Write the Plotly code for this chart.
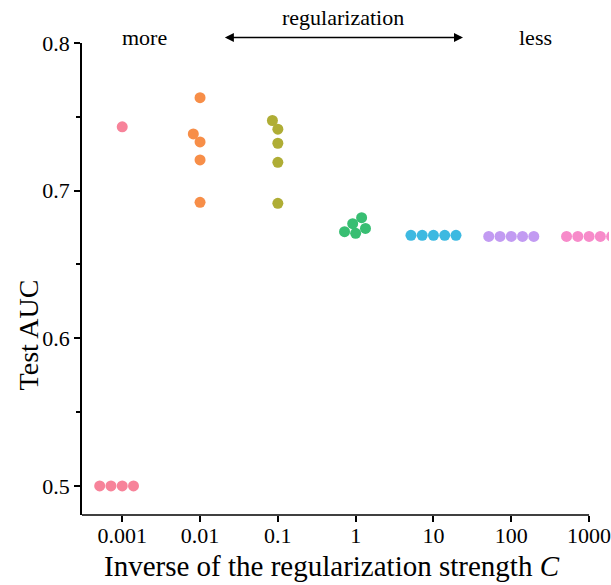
import numpy as np
import plotly.graph_objects as go

# Inverse regularization strengths (categorical x axis)
c_labels = ["0.001", "0.01", "0.1", "1", "10", "100", "1000"]

# Test AUC of each cross-validation fold, per value of C
auc_c0001 = [0.7432, 0.5, 0.5, 0.5, 0.5]
auc_c001 = [0.7630, 0.7384, 0.7330, 0.7208, 0.6921]
auc_c01 = [0.7475, 0.7416, 0.7321, 0.7192, 0.6914]
auc_c1 = [0.6711, 0.6722, 0.6744, 0.6776, 0.6817]
auc_c10 = [0.6697, 0.6697, 0.6697, 0.6697, 0.6697]
auc_c100 = [0.6690, 0.6690, 0.6690, 0.6690, 0.6690]
auc_c1000 = [0.6690, 0.6690, 0.6690, 0.6690, 0.6690]

auc_by_c = [auc_c0001, auc_c001, auc_c01, auc_c1, auc_c10, auc_c100, auc_c1000]

colors = ["#f7839a", "#f78e48", "#afad35", "#38be72", "#3db9e1", "#c29bf2", "#f78bca"]

SERIF = "Liberation Serif"
DOT_H = 0.00674   # marker extent in AUC units (for the swarm layout)
DOT_W = 0.1447    # marker extent in category units


def swarm_offsets(values, dot_h=DOT_H):
    """Beeswarm layout: place points (sorted by value) at the free
    position closest to the category centre, left side first."""
    vals = np.asarray(values, float) / dot_h
    order = np.argsort(vals, kind="stable")
    placed = []
    offs = np.zeros(len(vals))
    for i in order:
        y = vals[i]
        near = [(px, py) for px, py in placed if abs(py - y) < 1]
        left = [px - np.sqrt(1 - (py - y) ** 2) for px, py in near]
        right = [px + np.sqrt(1 - (py - y) ** 2) for px, py in near]
        cands = np.array([0.0] + left + right)
        cands = cands[np.argsort(np.abs(cands), kind="stable")]
        cx = 0.0
        for cx in cands:
            if all((cx - px) ** 2 + (y - py) ** 2 >= 1 - 1e-9 for px, py in near):
                break
        placed.append((cx, y))
        offs[i] = cx
    return offs


fig = go.Figure()
for k, (vals, col) in enumerate(zip(auc_by_c, colors)):
    xs = k + swarm_offsets(vals) * DOT_W
    fig.add_trace(go.Scatter(
        x=xs, y=vals, mode="markers",
        marker=dict(size=11, color=col, line=dict(width=0)),
        cliponaxis=True, showlegend=False,
        name=c_labels[k],
    ))

x_lo, x_hi = -0.517, 6.256

fig.update_layout(
    width=611, height=585,
    margin=dict(l=82, r=0, t=43, b=70),
    plot_bgcolor="white", paper_bgcolor="white",
    font=dict(family=SERIF, color="black", size=22),
    xaxis=dict(
        range=[x_lo, x_hi], showgrid=False, zeroline=False, showline=False,
        tickmode="array", tickvals=list(range(len(c_labels))), ticktext=c_labels,
        ticks="outside", ticklen=6, tickwidth=1.5, tickcolor="black",
        tickfont=dict(family=SERIF, size=22), ticklabelstandoff=-5,
        ticklabeloverflow="allow",
    ),
    yaxis=dict(
        range=[0.4803, 0.8], showgrid=False, zeroline=False,
        showline=True, linecolor="black", linewidth=1.5,
        tickmode="linear", tick0=0.5, dtick=0.1,
        ticks="outside", ticklen=6, tickwidth=1.5, tickcolor="black",
        tickfont=dict(family=SERIF, size=22), ticklabelstandoff=0,
        minor=dict(tickmode="linear", tick0=0.55, dtick=0.1, ticks="outside",
                   ticklen=4, tickwidth=1.5, tickcolor="black", showgrid=False),
    ),
)

# bottom spine ending at the last tick
fig.add_shape(type="line", xref="x", yref="paper", x0=x_lo, x1=len(c_labels) - 1,
              y0=0, y1=0, line=dict(color="black", width=1.5))

# axis labels
fig.add_annotation(text="Inverse of the regularization strength <i>C</i>",
                   xref="paper", yref="paper", x=0.4745, y=-0.108,
                   xanchor="center", yanchor="middle", showarrow=False,
                   font=dict(family=SERIF, size=29))
fig.add_annotation(text="Test AUC", xref="paper", yref="paper", x=-0.102, y=0.381,
                   xanchor="center", yanchor="middle", textangle=-90,
                   showarrow=False, font=dict(family=SERIF, size=28))

# regularization direction guide
fig.add_annotation(text="more", xref="x", yref="paper", x=0.29, y=1.0127,
                   xanchor="center", yanchor="middle",
                   showarrow=False, font=dict(family=SERIF, size=22))
fig.add_annotation(text="less", xref="x", yref="paper", x=5.31, y=1.0127,
                   xanchor="center", yanchor="middle",
                   showarrow=False, font=dict(family=SERIF, size=22))
fig.add_annotation(text="regularization", xref="x", yref="paper", x=2.84, y=1.054,
                   xanchor="center", yanchor="middle",
                   showarrow=False, font=dict(family=SERIF, size=22))
fig.add_annotation(text="", xref="x", yref="paper", x=4.38, y=1.0115,
                   axref="x", ayref="pixel", ax=1.30, ay=0,
                   showarrow=True, arrowside="end+start", arrowhead=2,
                   arrowsize=1.2, arrowwidth=1.5, arrowcolor="black")

fig.write_html("out.html")
